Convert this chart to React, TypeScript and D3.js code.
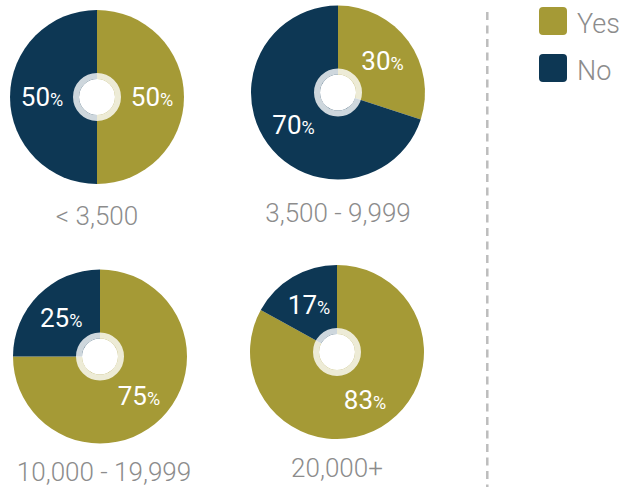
import React from 'react';
import {pie, arc, PieArcDatum} from 'd3';

// data
const categories = ['< 3,500', '3,500 - 9,999', '10,000 - 19,999', '20,000+'];
const yesValues = [50, 30, 75, 83];
const noValues = [50, 70, 25, 17];
const seriesNames = ['Yes', 'No'];

// layout
const width = 623;
const height = 487;
const colors = ['#A59A36', '#0D3754'];
const centers = [
  [97, 97],
  [338, 92.5],
  [100, 356.5],
  [337, 352]
];
const labelY = [225, 222, 481, 477];
const labelX = [97, 338, 104, 337];
const radius = 87;
const fontFamily = 'Roboto, "Noto Sans", sans-serif';

const pieGen = pie<number>().sort(null).value(d => d);
const sliceArc = arc<PieArcDatum<number>>().innerRadius(0).outerRadius(radius);
const labelArc = arc<PieArcDatum<number>>().innerRadius(55).outerRadius(55);

function Donut({index}: {index: number}) {
  const [cx, cy] = centers[index];
  const slices = pieGen([yesValues[index], noValues[index]]);
  return (
    <g transform={`translate(${cx},${cy})`}>
      {slices.map((s, i) => (
        <path key={i} d={sliceArc(s) || ''} fill={colors[i]} />
      ))}
      <circle r={21} fill="none" stroke="#fff" strokeOpacity={0.8} strokeWidth={6} />
      <circle r={18} fill="#fff" />
      {slices.map((s, i) => {
        const [lx, ly] = labelArc.centroid(s);
        return (
          <text
            key={'l' + i}
            x={lx}
            y={ly}
            dy="0.36em"
            textAnchor="middle"
            fill="#fff"
            fontFamily={fontFamily}
            fontWeight={400}
            fontSize={26}
          >
            {s.data}
            <tspan fontSize={18}>%</tspan>
          </text>
        );
      })}
    </g>
  );
}

export default function App() {
  return (
    <div style={{position: 'fixed', left: 0, top: 0}}>
      <svg width={width} height={height} style={{display: 'block'}}>
        <rect width={width} height={height} fill="#fff" />
        {categories.map((c, i) => (
          <g key={c}>
            <Donut index={i} />
            <text
              x={labelX[i]}
              y={labelY[i]}
              textAnchor="middle"
              fill="#8c8c8c"
              fontFamily={fontFamily}
              fontWeight={300}
              fontSize={26}
            >
              {c}
            </text>
          </g>
        ))}
        <line
          x1={487.3}
          x2={487.3}
          y1={12}
          y2={487}
          stroke="#bdbdbd"
          strokeWidth={2.5}
          strokeDasharray="8 5.5"
        />
        {seriesNames.map((name, i) => (
          <g key={name} transform={`translate(539,${7 + i * 47})`}>
            <rect width={28} height={28} rx={4} fill={colors[i]} />
            <text
              x={38}
              y={26}
              fill="#8c8c8c"
              fontFamily={fontFamily}
              fontWeight={300}
              fontSize={27}
            >
              {name}
            </text>
          </g>
        ))}
      </svg>
    </div>
  );
}
